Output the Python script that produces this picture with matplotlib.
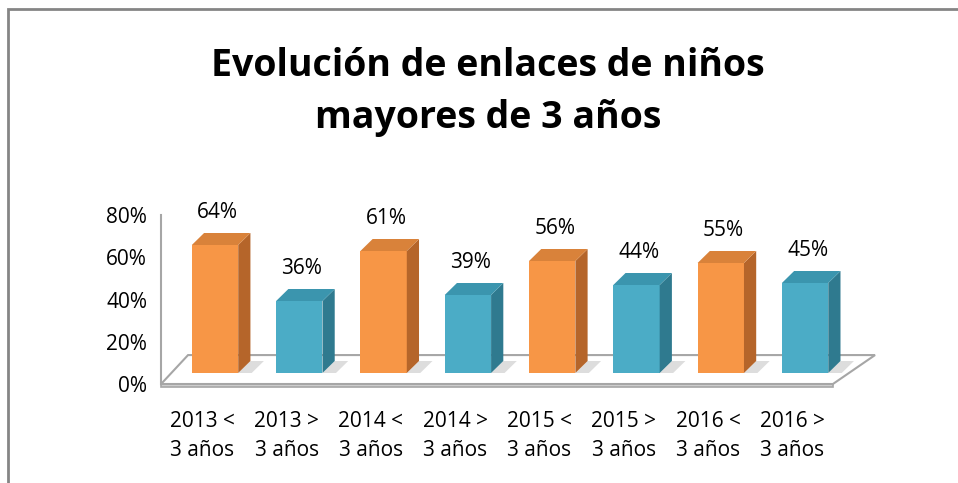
import matplotlib
matplotlib.use("Agg")
import matplotlib.pyplot as plt
from matplotlib.patches import Polygon, Rectangle

plt.rcParams["font.family"] = ["Open Sans", "DejaVu Sans"]

# Chart data
categories = ["2013 <\n3 años", "2013 >\n3 años", "2014 <\n3 años", "2014 >\n3 años",
              "2015 <\n3 años", "2015 >\n3 años", "2016 <\n3 años", "2016 >\n3 años"]
values = [64, 36, 61, 39, 56, 44, 55, 45]
yticks = [0, 20, 40, 60, 80]
title = "Evolución de enlaces de niños\nmayores de 3 años"

# colours: (front, side, top)
orange = ("#F79646", "#B5652A", "#D9823A")
blue = ("#4BACC6", "#2F7A8F", "#3B95AE")
series_colors = [orange, blue] * 4

W, H = 958, 483
fig = plt.figure(figsize=(W / 100, H / 100), dpi=100)

# chart border (only top and left visible)
fig.add_artist(Rectangle((8 / W, -0.1), 1.2, (H - 9) / H + 0.1, transform=fig.transFigure,
                         fill=False, edgecolor="#858585", linewidth=2))

fig.text(488 / W, 1 - 92 / H, title, ha="center", va="center", fontsize=27,
         fontweight="bold", linespacing=1.45)

pos = [140 / W, 1 - 400 / H, 760 / W, 200 / H]
xlim = (-0.89, 8.126)

# back wall axis with the value ticks
ax_wall = fig.add_axes(pos)
ax_wall.set_xlim(*xlim)
ax_wall.set_ylim(-7.57, 87.1)
for s in ["top", "right", "bottom"]:
    ax_wall.spines[s].set_visible(False)
ax_wall.spines["left"].set_position(("data", -0.64))
ax_wall.spines["left"].set_bounds(0, 80)
ax_wall.spines["left"].set_color("#a6a6a6")
ax_wall.spines["left"].set_linewidth(1.5)
ax_wall.set_xticks([])
ax_wall.set_yticks(yticks)
ax_wall.set_yticklabels([f"{t}%" for t in yticks], fontsize=15)
ax_wall.tick_params(axis="y", length=0, pad=10)
ax_wall.patch.set_visible(False)

# floor slab
n = len(values)
floor_top = [(-0.64, 0), (n - 0.67, 0), (n - 0.17, 13.7), (-0.32, 13.7)]
floor_front = [(-0.64, 0), (n - 0.67, 0), (n - 0.67, -1.2), (-0.64, -1.2)]
ax_wall.add_patch(Polygon(floor_front, closed=True, facecolor="#d0d0d0",
                          edgecolor="#a6a6a6", linewidth=1.2))
ax_wall.add_patch(Polygon(floor_top, closed=True, facecolor="white",
                          edgecolor="#a6a6a6", linewidth=1.5))

# bars axis
ax = fig.add_axes(pos)
ax.set_xlim(*xlim)
ax.set_ylim(-13.5, 86.5)
ax.axis("off")

width = 0.55
dx, dy = 0.145, 6.0
xs = list(range(n))

# soft shadows on the floor
for x, v in zip(xs, values):
    x1 = x + width / 2
    ax.add_patch(Polygon([(x1, 0), (x1 + 0.16, 0), (x1 + 0.16 + dx, dy), (x1 + dx, dy)],
                         closed=True, facecolor="#cfcfcf", edgecolor="none", alpha=0.7))

fronts = [c[0] for c in series_colors]
ax.bar(xs, values, width=width, color=fronts, edgecolor="none", zorder=3)
for x, v, c in zip(xs, values, series_colors):
    x0, x1 = x - width / 2, x + width / 2
    side = [(x1, 0), (x1 + dx, dy), (x1 + dx, v + dy), (x1, v)]
    top = [(x0, v), (x1, v), (x1 + dx, v + dy), (x0 + dx, v + dy)]
    ax.add_patch(Polygon(side, closed=True, facecolor=c[1], edgecolor="none", zorder=3))
    ax.add_patch(Polygon(top, closed=True, facecolor=c[2], edgecolor="none", zorder=3))
    ax.text(x + 0.03, v + dy + 10, f"{v}%", ha="center", va="center", fontsize=15)

for x, lab in zip(xs, categories):
    ax.text(x - 0.15, -31.5, lab, ha="center", va="center", fontsize=15, linespacing=1.5)

fig.savefig("out.png", dpi=100)
